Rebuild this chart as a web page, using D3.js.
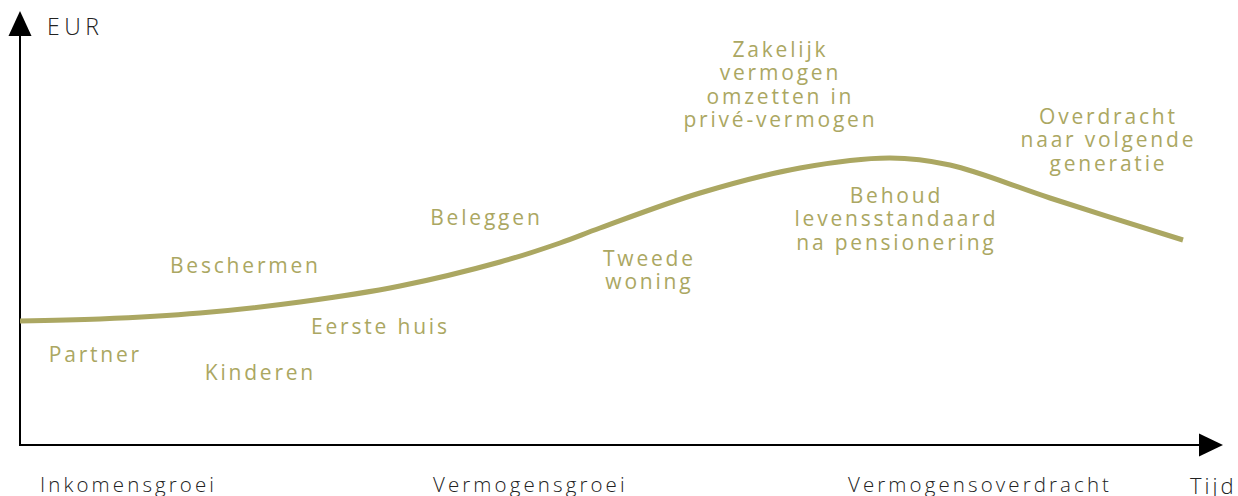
<!DOCTYPE html>
<html>
<head>
<meta charset="utf-8">
<script src="https://cdn.jsdelivr.net/npm/d3@7"></script>
<style>
  body { margin: 0; background: #fff; }
  svg text { font-family: "Open Sans", sans-serif; }
</style>
</head>
<body>
<div id="chart"></div>
<script>
// life-cycle curve (time units, EUR units)
var curveTime = [0, 8, 18, 28, 38, 48, 54, 58, 68, 78, 87, 93, 103, 116.3];
var curveValue = [31, 31.5, 33, 35.75, 39.75, 45.75, 50.5, 54.25, 63, 69.25, 71.75, 70, 61.75, 51.25];

// olive labels along the curve
var labelLines = [
  ["Partner"],
  ["Kinderen"],
  ["Beschermen"],
  ["Eerste huis"],
  ["Beleggen"],
  ["Tweede", "woning"],
  ["Zakelijk", "vermogen", "omzetten in", "privé-vermogen"],
  ["Behoud", "levensstandaard", "na pensionering"],
  ["Overdracht", "naar volgende", "generatie"]
];
var labelTime = [7.4, 23.9, 22.4, 35.9, 46.5, 62.8, 75.9, 87.5, 108.7];
var labelValue = [20.75, 16.25, 43, 27.75, 55, 44.75, 97, 60.5, 80.25];

// phases under the time axis
var phaseNames = ["Inkomensgroei", "Vermogensgroei", "Vermogensoverdracht"];
var phaseTime = [2, 41.3, 82.8];

var svgWidth = 1238;
var svgHeight = 496;
var olive = "#aba762";

var svg = d3.select("#chart")
    .append("svg")
    .attr("width", svgWidth)
    .attr("height", svgHeight);

var x = d3.scaleLinear().domain([0, 120]).range([20, 1220]);
var y = d3.scaleLinear().domain([0, 100]).range([445, 45]);

// axes with arrow heads
svg.append("line")
    .attr("x1", x(0)).attr("y1", y(0) + 1)
    .attr("x2", x(0)).attr("y2", 30)
    .attr("stroke", "#000").attr("stroke-width", 2);
svg.append("path")
    .attr("d", "M" + (x(0) - 11.5) + ",36 L" + x(0) + ",11 L" + (x(0) + 11.5) + ",36 Z")
    .attr("fill", "#000");

svg.append("line")
    .attr("x1", x(0) - 1).attr("y1", y(0))
    .attr("x2", 1205).attr("y2", y(0))
    .attr("stroke", "#000").attr("stroke-width", 2);
svg.append("path")
    .attr("d", "M1199," + (y(0) - 11.5) + " L1223," + y(0) + " L1199," + (y(0) + 11.5) + " Z")
    .attr("fill", "#000");

svg.append("text")
    .attr("x", 47).attr("y", 35)
    .attr("font-size", 23).attr("font-weight", 300)
    .attr("letter-spacing", 4.5)
    .attr("fill", "#222")
    .text("EUR");

svg.append("text")
    .attr("x", x(117)).attr("y", 494)
    .attr("font-size", 22).attr("font-weight", 300)
    .attr("letter-spacing", 3)
    .attr("fill", "#222")
    .text("Tijd");

svg.selectAll(".phase")
    .data(phaseNames)
    .enter()
    .append("text")
    .attr("class", "phase")
    .attr("x", function(d, i) { return x(phaseTime[i]); })
    .attr("y", 492)
    .attr("font-size", 20.5).attr("font-weight", 300)
    .attr("fill", "#222")
    .attr("letter-spacing", 3.1)
    .text(function(d) { return d; });

// curve
var pts = curveTime.map(function(t, i) { return [t, curveValue[i]]; });
var line = d3.line()
    .x(function(d) { return x(d[0]); })
    .y(function(d) { return y(d[1]); })
    .curve(d3.curveCatmullRom.alpha(0.5));

svg.append("path")
    .datum(pts)
    .attr("d", line)
    .attr("fill", "none")
    .attr("stroke", olive)
    .attr("stroke-width", 5);

// labels
var labels = svg.selectAll(".lbl")
    .data(labelLines)
    .enter()
    .append("text")
    .attr("class", "lbl")
    .attr("text-anchor", "middle")
    .attr("font-size", 21)
    .attr("font-weight", 500)
    .attr("letter-spacing", 2.8)
    .attr("fill", olive);

labels.each(function(lines, i) {
    var t = d3.select(this);
    lines.forEach(function(s, j) {
        t.append("tspan")
            .attr("x", x(labelTime[i]) + 1.4)
            .attr("y", y(labelValue[i]) + j * 23.3)
            .text(s);
    });
});
</script>
</body>
</html>
